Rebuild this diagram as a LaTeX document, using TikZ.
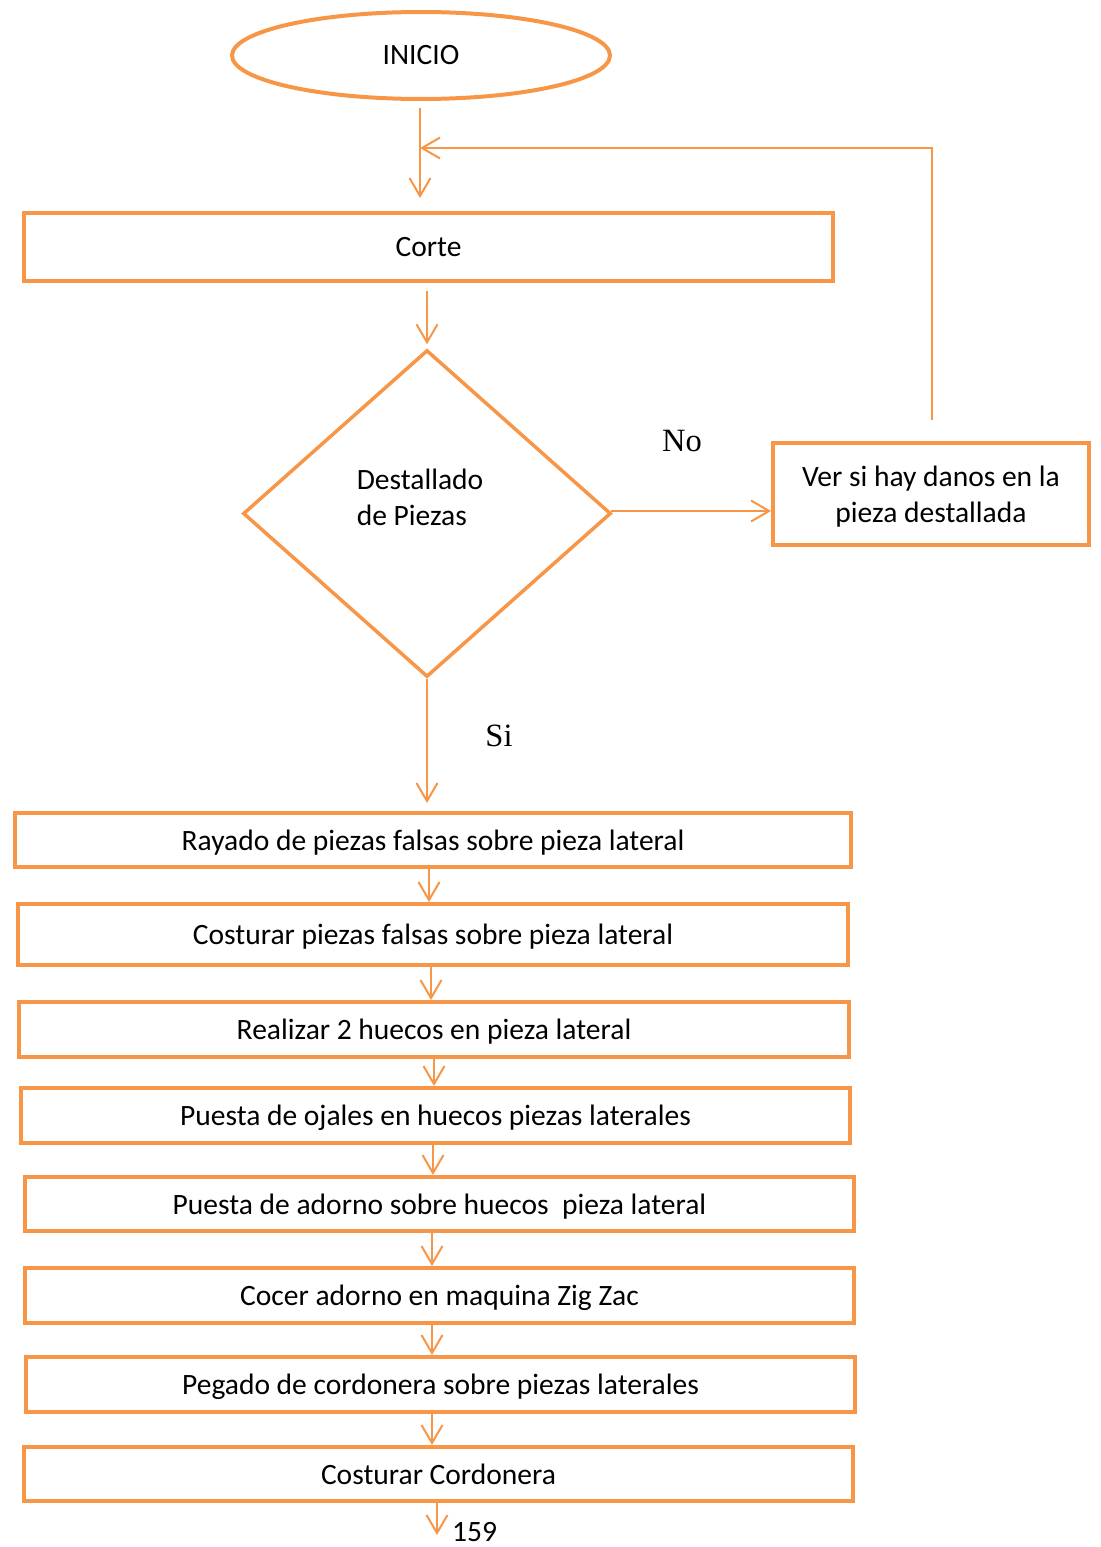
\documentclass[tikz,border=0pt]{standalone}
\usepackage{fontspec}
\setmainfont{Carlito}
\newfontfamily\serifa{Liberation Serif}
\usepackage{xcolor}
\usetikzlibrary{arrows.meta,positioning,shapes.geometric,calc}
\definecolor{fcNaranja}{HTML}{F79646}
\definecolor{fcInk}{HTML}{000000}
\tikzset{
  % Inicio (ellipse)
  ibox/.style={ellipse,inner sep=0pt,
    minimum width=7.56cm,minimum height=1.74cm,
    draw=fcNaranja,line width=0.08cm,
    font=\fontsize{16.8}{20.5}\selectfont,text=fcInk},
  % Process box
  pbox/.style={rectangle,inner sep=0pt,
    minimum width=16.6cm,minimum height=1.1cm,
    draw=fcNaranja,line width=0.08cm,align=center,
    text depth=0pt,
    font=\fontsize{16.8}{20.5}\selectfont,text=fcInk},
  % Decision (diamond)
  dbox/.style={diamond,inner sep=0pt,
    minimum width=7.36cm,minimum height=6.54cm,
    draw=fcNaranja,line width=0.07cm,align=left,
    font=\fontsize{16.8}{20.5}\selectfont,text=fcInk},
  % Arrows
  arr/.style={-{Straight Barb[length=0.36cm,width=0.42cm]},
    line width=0.04cm,color=fcNaranja},
  lbl/.style={font=\serifa\fontsize{18.5}{20}\selectfont,text=fcInk},
  pag/.style={font=\fontsize{16.8}{20.5}\selectfont,text=fcInk},
}
\begin{document}
\begin{tikzpicture}[x=0.02cm,y=-0.02cm]
  \useasboundingbox (0,0) rectangle (1101,1547);

  % Inicio y corte
  \node[ibox] (inicio) at (421,55.5) {INICIO};
  \node[pbox,minimum width=16.18cm,minimum height=1.36cm] (corte)
    at (428.5,247) {Corte};

  % Decision
  \node[dbox] (dest) at (427,513.5)
    {\raisebox{0.12cm}[0pt][0pt]{\begin{tabular}{@{}l@{}}Destallado\\de Piezas\end{tabular}}\hspace*{0.28cm}};
  \node[pbox,minimum width=6.32cm,minimum height=2.04cm] (ver)
    at (931,494) {Ver si hay danos en la\\pieza destallada};

  % Pasos (columna)
  \node[pbox,minimum width=16.72cm,minimum height=1.08cm] (rayado)
    at (433,840) {Rayado de piezas falsas sobre pieza lateral};
  \node[pbox,minimum height=1.22cm] (costura)
    at (433,934.5) {Costurar piezas falsas sobre pieza lateral};
  \node[pbox] (huecos)
    at (434,1029.5) {Realizar 2 huecos en pieza lateral};
  \node[pbox,minimum width=16.58cm] (ojales)
    at (435.5,1115.5) {Puesta de ojales en huecos piezas laterales};
  \node[pbox,minimum width=16.58cm,minimum height=1.08cm] (adorno)
    at (439.5,1204) {Puesta de adorno sobre huecos\ \ pieza lateral};
  \node[pbox,minimum width=16.58cm] (cocer)
    at (439.5,1295.5) {Cocer adorno en maquina Zig Zac};
  \node[pbox,minimum width=16.58cm] (pegado)
    at (440.5,1384.5) {Pegado de cordonera sobre piezas laterales};
  \node[pbox,minimum width=16.58cm,minimum height=1.08cm] (cordonera)
    at (438.5,1474) {Costurar Cordonera};

  % Etiquetas
  \node[lbl] (no) at (682,441) {No};
  \node[lbl] (si) at (499,736) {Si};
  \coordinate (fin) at (437,1535);
  \node[pag,anchor=west] (pagina) at (446,1532) {159};

  % Puntos de las flechas
  \coordinate (retorno) at (932,420);
  \coordinate (junta) at (420,148);
  \coordinate (sale) at (611,511);
  \coordinate (a1) at (429,869);
  \coordinate (a2) at (431,967);
  \coordinate (a3) at (434,1059);
  \coordinate (a4) at (433,1145);
  \coordinate (a5) at (432,1233);
  \coordinate (a6) at (432,1325);
  \coordinate (a7) at (432,1414);

  % Flechas
  \draw[arr,shorten <=0.14cm,shorten >=0.26cm] (inicio.south -| junta) -- (junta |- corte.north);
  \draw[arr] (retorno) |- (junta);
  \draw[arr,shorten <=0.16cm,shorten >=0.08cm] (dest.north |- corte.south) -- (dest.north);
  \draw[arr] (sale) -- (sale -| ver.west);
  \draw[arr,shorten >=0.16cm] (dest.south) -- (dest.south |- rayado.north);
  \draw[arr] (a1) -- (a1 |- costura.north);
  \draw[arr] (a2) -- (a2 |- huecos.north);
  \draw[arr] (a3) -- (a3 |- ojales.north);
  \draw[arr] (a4) -- (a4 |- adorno.north);
  \draw[arr] (a5) -- (a5 |- cocer.north);
  \draw[arr] (a6) -- (a6 |- pegado.north);
  \draw[arr] (a7) -- (a7 |- cordonera.north);
  \draw[arr] (cordonera.south -| fin) -- (fin);
\end{tikzpicture}
\end{document}
